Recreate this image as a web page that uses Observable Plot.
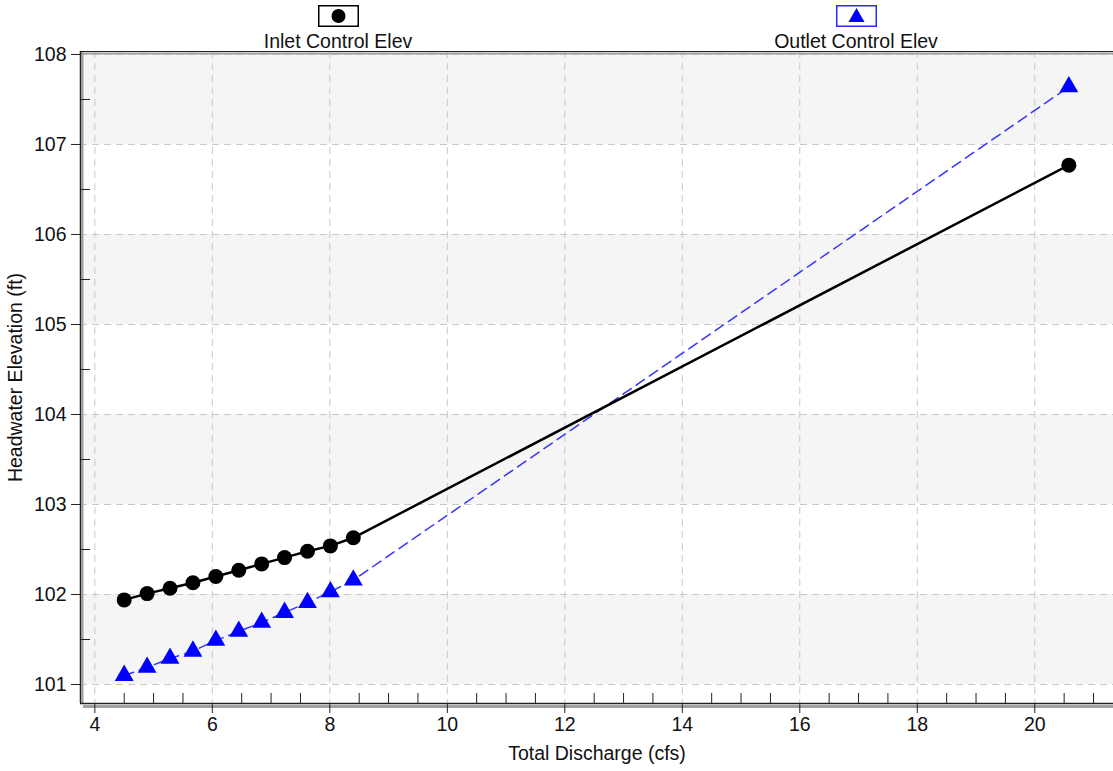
<!DOCTYPE html>
<html>
<head>
<meta charset="utf-8">
<script src="https://cdn.jsdelivr.net/npm/d3@7"></script>
<script src="https://cdn.jsdelivr.net/npm/@observablehq/plot@0.6"></script>
<style>
  body { margin: 0; background: white; font-family: "Liberation Sans", Arial, sans-serif; }
  #wrap { position: relative; width: 1113px; height: 771px; }
  #legend { position: absolute; left: 0; top: 0; width: 1113px; height: 49px; z-index: 2; }
  #chart { position: absolute; left: 0; top: 0; }
  #chart svg text { font-size: 19.5px !important; font-family: "Liberation Sans", Arial, sans-serif !important; }
  .item { position: absolute; top: 0; width: 240px; text-align: center; font-size: 19.5px; color: #111; line-height: 1; }
  .item svg { display: block; margin: 5px auto 0 auto; }
  .item span { display: block; margin-top: 5px; }
</style>
</head>
<body>
<div id="wrap">
<div id="chart"></div>
<div id="legend"></div>
</div>
<script>
// ---- data ----
const inletQ   = [4.5, 4.89, 5.28, 5.67, 6.06, 6.45, 6.84, 7.23, 7.62, 8.01, 8.4, 20.58];
const inletHW  = [101.94, 102.01, 102.07, 102.13, 102.2, 102.27, 102.34, 102.41, 102.48, 102.54, 102.63, 106.77];
const outletQ  = [4.5, 4.89, 5.28, 5.67, 6.06, 6.45, 6.84, 7.23, 7.62, 8.01, 8.4, 20.58];
const outletHW = [101.1, 101.19, 101.29, 101.37, 101.49, 101.59, 101.69, 101.8, 101.91, 102.03, 102.16, 107.64];
const seriesNames = ["Inlet Control Elev", "Outlet Control Elev"];
const xTicks = [4, 6, 8, 10, 12, 14, 16, 18, 20];
const xMinorTicks = [4.5, 5, 5.5, 6.5, 7, 7.5, 8.5, 9, 9.5, 10.5, 11, 11.5, 12.5, 13, 13.5, 14.5, 15, 15.5, 16.5, 17, 17.5, 18.5, 19, 19.5, 20.5, 21];
const yTicks = [101, 102, 103, 104, 105, 106, 107, 108];
const yMinorTicks = [101.5, 102.5, 103.5, 104.5, 105.5, 106.5, 107.5];
const bandLo = [101, 103, 105, 107];
const bandHi = [102, 104, 106, 108];
const xDomain = [3.756, 21.34];
const yDomain = [100.789, 108.033];

const inlet = inletQ.map((q, i) => ({q, hw: inletHW[i]}));
const outlet = outletQ.map((q, i) => ({q, hw: outletHW[i]}));
const bands = bandLo.map((lo, i) => ({lo, hi: bandHi[i]}));

// ---- legend ----
const legend = document.getElementById("legend");
legend.innerHTML = `
  <div class="item" style="left:${338 - 120}px">
    <svg width="41" height="22"><rect x="0.75" y="0.75" width="39.5" height="20.5" fill="white" stroke="black" stroke-width="1.5"/><circle cx="20.5" cy="11" r="7" fill="black"/></svg>
    <span>${seriesNames[0]}</span>
  </div>
  <div class="item" style="left:${856 - 120}px">
    <svg width="41" height="22"><rect x="0.75" y="0.75" width="39.5" height="20.5" fill="white" stroke="#2a2aff" stroke-width="1.5"/><path d="M20.5,3 L28.5,17 L12.5,17 Z" fill="#0000ff"/></svg>
    <span>${seriesNames[1]}</span>
  </div>`;

// ---- chart ----
const chart = Plot.plot({
  width: 1113,
  height: 771,
  marginTop: 51,
  marginLeft: 80,
  marginRight: 0,
  marginBottom: 68,
  x: {domain: xDomain},
  y: {domain: yDomain},
  style: {fontFamily: "'Liberation Sans', Arial, sans-serif", fontSize: "19.5px", color: "#111", background: "white"},
  marks: [
    Plot.rect(bands, {y1: "lo", y2: "hi", fill: "#f5f5f5"}),
    Plot.gridX(xTicks, {stroke: "#c8c8c8", strokeOpacity: 1, strokeDasharray: "7,5"}),
    Plot.gridY(yTicks, {stroke: "#c8c8c8", strokeOpacity: 1, strokeDasharray: "7,5"}),
    // frame shadow
    Plot.ruleY([yDomain[1]], {stroke: "#a0a0a0", strokeWidth: 2, dy: 2}),
    Plot.ruleY([yDomain[0]], {stroke: "#a0a0a0", strokeWidth: 3, dy: 3, dx: 3}),
    Plot.ruleX([xDomain[0]], {stroke: "#a0a0a0", strokeWidth: 2, dx: 2}),
    // frame
    Plot.ruleY([yDomain[1]], {stroke: "#222", strokeWidth: 1.2}),
    Plot.ruleY([yDomain[0]], {stroke: "#222", strokeWidth: 1.5}),
    Plot.ruleX([xDomain[0]], {stroke: "#222", strokeWidth: 1.5}),
    // axes
    Plot.axisX({ticks: xTicks, tickSize: 10, tickPadding: 4, tickFormat: d => d, stroke: "#222",
      label: "Total Discharge (cfs)", labelAnchor: "center", labelArrow: "none", labelOffset: 56}),
    Plot.axisX({ticks: xMinorTicks, tickSize: 10, dy: -10, text: null, label: null, stroke: "#222"}),
    Plot.axisY({ticks: yTicks, tickSize: 9, tickPadding: 5, tickFormat: d => d, stroke: "#222",
      label: "Headwater Elevation (ft)", labelAnchor: "center", labelArrow: "none", labelOffset: 72}),
    Plot.axisY({ticks: yMinorTicks, tickSize: 10, dx: 10, text: null, label: null, stroke: "#222"}),
    // series
    Plot.line(outlet, {x: "q", y: "hw", stroke: "#3535ff", strokeWidth: 1.5, strokeDasharray: "10,6"}),
    Plot.line(inlet, {x: "q", y: "hw", stroke: "black", strokeWidth: 2.5}),
    Plot.dot(inlet, {x: "q", y: "hw", symbol: "circle", r: 7.5, fill: "black"}),
    Plot.dot(outlet, {x: "q", y: "hw", symbol: "triangle", r: 7, fill: "#0000ff"})
  ]
});
document.getElementById("chart").appendChild(chart);
</script>
</body>
</html>
